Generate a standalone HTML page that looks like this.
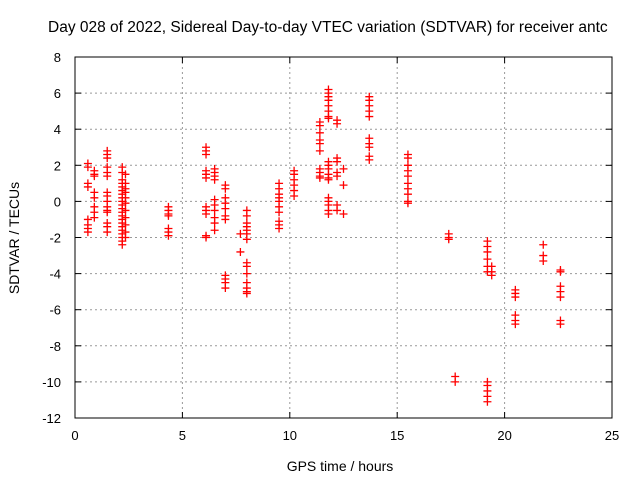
<!DOCTYPE html>
<html><head><meta charset="utf-8"><style>
body{margin:0;background:#fff;overflow:hidden;}
svg{display:block;font-family:"Liberation Sans",sans-serif;}
</style></head><body>
<svg id="chart" width="640" height="480">
<text x="48" y="32" font-size="15.5" text-anchor="start">Day 028 of 2022, Sidereal Day-to-day VTEC variation (SDTVAR) for receiver antc</text>
<text transform="translate(19,238) rotate(-90)" font-size="14" text-anchor="middle">SDTVAR / TECUs</text>
<text x="340" y="471" font-size="14" text-anchor="middle">GPS time / hours</text>
<g id="grid"></g><g id="ticks"></g><g id="marks"></g>
<rect x="75" y="57" width="537" height="361" fill="none" stroke="#000" stroke-width="1"/>
</svg>
<script>
const xTicks=[0,5,10,15,20,25];
const yTicks=[8,6,4,2,0,-2,-4,-6,-8,-10,-12];
const colHours=[0.6,0.9,1.5,2.2,2.35,4.35,6.1,6.5,7.0,7.7,8.0,9.5,10.2,11.4,11.8,12.2,12.5,13.7,15.5,17.4,17.7,19.2,19.4,20.5,21.8,22.6];
const colValues=[
[2.1,1.9,1.0,0.8,-1.0,-1.3,-1.5,-1.7],
[1.7,1.5,1.4,0.5,0.2,-0.3,-0.6,-0.9],
[2.8,2.6,2.4,1.9,1.6,1.4,0.5,0.3,0.0,-0.3,-0.5,-0.6,-1.2,-1.4,-1.7],
[1.9,1.6,1.2,1.0,0.8,0.6,0.4,0.2,0,-0.2,-0.4,-0.6,-0.8,-1.0,-1.2,-1.4,-1.6,-1.8,-2.0,-2.2,-2.4],
[1.5,1.0,0.7,0.5,0.2,-0.1,-0.5,-0.9,-1.3,-1.7,-2.0],
[-0.3,-0.5,-0.7,-0.8,-1.5,-1.7,-1.9],
[3.0,2.8,2.6,1.7,1.5,1.3,-0.3,-0.5,-0.7,-1.9,-2.0],
[1.8,1.6,1.4,1.2,0.1,-0.2,-0.5,-0.9,-1.2,-1.6],
[0.9,0.7,0.2,-0.1,-0.4,-0.8,-1.0,-4.1,-4.3,-4.5,-4.8],
[-1.8,-2.8],
[-0.5,-0.8,-1.2,-1.4,-1.6,-1.8,-2.1,-3.4,-3.6,-4.0,-4.5,-4.8,-5.0,-5.1],
[1.0,0.7,0.4,0.2,0,-0.3,-0.6,-1.1,-1.3,-1.5],
[1.7,1.5,1.2,0.9,0.6,0.3],
[4.4,4.2,3.8,3.4,3.2,2.8,1.8,1.6,1.4,1.3],
[6.2,6.0,5.8,5.6,5.3,5.0,4.7,4.6,2.2,2.0,1.8,1.5,1.3,1.2,0.2,0,-0.2,-0.5,-0.7],
[4.5,4.3,2.4,2.2,1.6,1.4,-0.2,-0.5],
[1.8,0.9,-0.7],
[5.8,5.6,5.3,5.0,4.7,3.5,3.2,3.0,2.5,2.3],
[2.6,2.4,2.0,1.7,1.4,1.0,0.7,0.4,0,-0.1],
[-1.8,-2.0,-2.1],
[-9.7,-10.0],
[-2.2,-2.5,-2.8,-3.2,-3.6,-3.9,-10.0,-10.2,-10.5,-10.8,-11.1],
[-3.6,-3.9,-4.1],
[-4.9,-5.1,-5.3,-6.3,-6.6,-6.8],
[-2.4,-3.0,-3.3],
[-3.8,-3.9,-4.7,-5.0,-5.3,-6.6,-6.8]
];
const L=75,R=612,T=57,B=418;
const xs=h=>L+(h-0)/(25-0)*(R-L);
const ys=v=>B-(v+12)/20*(B-T);
const NS="http://www.w3.org/2000/svg";
function mk(tag,attrs,parent){const e=document.createElementNS(NS,tag);for(const k in attrs)e.setAttribute(k,attrs[k]);parent.appendChild(e);return e;}
const grid=document.getElementById('grid'),ticks=document.getElementById('ticks'),marks=document.getElementById('marks');
xTicks.forEach(t=>{const x=xs(t);
 if(t>0&&t<25){const g=mk('line',{x1:x,x2:x,y1:T,y2:B,stroke:'#999','stroke-dasharray':'2,3'},grid);
 
 }
 mk('line',{x1:x,x2:x,y1:B,y2:B-6,stroke:'#000'},ticks);mk('line',{x1:x,x2:x,y1:T,y2:T+6,stroke:'#000'},ticks);
 const tx=mk('text',{x:x,y:B+22,'font-size':13,'text-anchor':'middle'},ticks);tx.textContent=t;
 
 
});
yTicks.forEach(t=>{const y=ys(t);
 if(t>-12&&t<8){const g=mk('line',{x1:L,x2:R,y1:y,y2:y,stroke:'#999','stroke-dasharray':'2,3'},grid);
 
 }
 mk('line',{x1:L,x2:L+6,y1:y,y2:y,stroke:'#000'},ticks);mk('line',{x1:R,x2:R-6,y1:y,y2:y,stroke:'#000'},ticks);
 const tx=mk('text',{x:L-14,y:y+5,'font-size':13,'text-anchor':'end'},ticks);tx.textContent=t;
 
 
});
colHours.forEach((h,i)=>{colValues[i].forEach(v=>{
 const x=xs(h),y=ys(v);
 const p=mk('path',{d:`M${x-4},${y}H${x+4}M${x},${y-4}V${y+4}`,stroke:'#f00','stroke-width':1.3,fill:'none'},marks);
 
 
});});
</script>
</body></html>
